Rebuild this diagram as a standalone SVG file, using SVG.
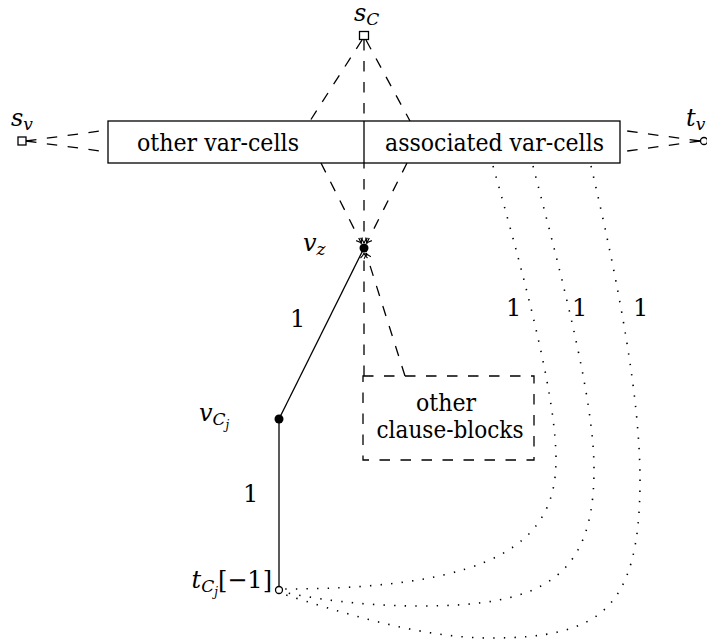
<svg xmlns="http://www.w3.org/2000/svg" width="707" height="642" viewBox="0 0 707 642">
<style>
  text { font-family: "DejaVu Serif", "Liberation Serif", serif; fill: #000; }
  .t { font-size: 24px; }
  .m { font-size: 24px; font-style: italic; }
  .sub { font-size: 17px; }
  .subsub { font-size: 12px; }
  .up { font-style: normal; }
  .solid { stroke: #000; stroke-width: 1.3; fill: none; }
  .dash { stroke: #000; stroke-width: 1.3; fill: none; stroke-dasharray: 10.5 10.5; }
  .dot { stroke: #000; stroke-width: 1.6; fill: none; stroke-dasharray: 1.4 9.2; }
</style>
<defs>
  <marker id="tip" viewBox="-6 -5 8 10" markerWidth="8" markerHeight="10" refX="0" refY="0" orient="auto" markerUnits="userSpaceOnUse">
    <path d="M -5 -3.5 Q -2 -0.5 0 0 Q -2 0.5 -5 3.5" fill="none" stroke="#000" stroke-width="1.1"/>
  </marker>
</defs>

<g id="connectors">
  <line class="dash" x1="26" y1="141" x2="108" y2="130"/>
  <line class="dash" x1="26" y1="141" x2="108" y2="152"/>
  <line class="dash" x1="700" y1="141" x2="620" y2="130"/>
  <line class="dash" x1="700" y1="141" x2="620" y2="152"/>
  <line class="dash" x1="362" y1="40" x2="310" y2="121"/>
  <line class="dash" x1="366" y1="40" x2="410" y2="121"/>
  <line class="dash" x1="364" y1="40" x2="364" y2="121"/>
  <line class="dash" x1="364" y1="163" x2="364" y2="243" stroke-dashoffset="5" marker-end="url(#tip)"/>
  <line class="dash" x1="321" y1="163" x2="361.5" y2="243.5" marker-end="url(#tip)"/>
  <line class="dash" x1="407" y1="163" x2="366.5" y2="243.5" marker-end="url(#tip)"/>
  <line class="dash" x1="364" y1="376" x2="364" y2="253" marker-end="url(#tip)"/>
  <line class="dash" x1="405" y1="376" x2="366" y2="253" marker-end="url(#tip)"/>
  <line class="solid" x1="364" y1="248" x2="279" y2="419"/>
  <line class="solid" x1="279" y1="419" x2="279" y2="587"/>
  <path class="dot" d="M493,166 C530,297 556,400 556,460 C556,540 500,589 283,589"/>
  <path class="dot" d="M533,166 C565,290 594,400 594,470 C594,580 540,606 420,606 C360,606 310,598 283,592"/>
  <path class="dot" d="M591,166 C620,290 640,400 640,480 C640,610 600,638 490,638 C420,638 340,612 283,594"/>
  <text class="t" x="290" y="327">1</text>
  <text class="t" x="243" y="502">1</text>
  <text class="t" x="506" y="316">1</text>
  <text class="t" x="572" y="316">1</text>
  <text class="t" x="633" y="316">1</text>
</g>

<g id="var-cells">
  <rect x="108" y="121" width="512" height="42" fill="none" stroke="#000" stroke-width="1.3"/>
  <line x1="364" y1="121" x2="364" y2="163" stroke="#000" stroke-width="1.3"/>
  <text class="t" x="218" y="151" text-anchor="middle" textLength="162" lengthAdjust="spacingAndGlyphs">other var-cells</text>
  <text class="t" x="494.5" y="151" text-anchor="middle" textLength="219" lengthAdjust="spacingAndGlyphs">associated var-cells</text>
</g>

<g id="clause-blocks">
  <rect class="dash" x="363" y="376" width="171" height="84"/>
  <text class="t" x="446" y="411" text-anchor="middle" textLength="60" lengthAdjust="spacingAndGlyphs">other</text>
  <text class="t" x="450" y="438" text-anchor="middle" textLength="147" lengthAdjust="spacingAndGlyphs">clause-blocks</text>
</g>

<g id="sC">
  <rect x="359.5" y="31.5" width="9" height="8" fill="#fff" stroke="#000" stroke-width="1.3"/>
  <text class="m" x="354" y="21">s<tspan class="sub" dy="4">C</tspan></text>
</g>

<g id="sv">
  <rect x="18" y="137" width="8" height="8" fill="#fff" stroke="#000" stroke-width="1.3"/>
  <text class="m" x="11" y="126">s<tspan class="sub" dy="4">v</tspan></text>
</g>

<g id="tv">
  <circle cx="704" cy="141" r="3.5" fill="#fff" stroke="#000" stroke-width="1.3"/>
  <text class="m" x="686" y="126">t<tspan class="sub" dy="4">v</tspan></text>
</g>

<g id="vz">
  <circle cx="364" cy="248" r="4.5" fill="#000"/>
  <text class="m" x="303" y="251">v<tspan class="sub" dy="4">z</tspan></text>
</g>

<g id="vCj">
  <circle cx="279" cy="419" r="4.5" fill="#000"/>
  <text class="m" x="199" y="421">v<tspan class="sub" dy="4">C</tspan><tspan class="subsub" dy="4">j</tspan></text>
</g>

<g id="tCj">
  <circle cx="279" cy="590" r="3.5" fill="#fff" stroke="#000" stroke-width="1.3"/>
  <text class="m" x="272" y="588" text-anchor="end">t<tspan class="sub" dy="4">C</tspan><tspan class="subsub" dy="4">j</tspan><tspan class="up" dy="-8">[−1]</tspan></text>
</g>
</svg>
